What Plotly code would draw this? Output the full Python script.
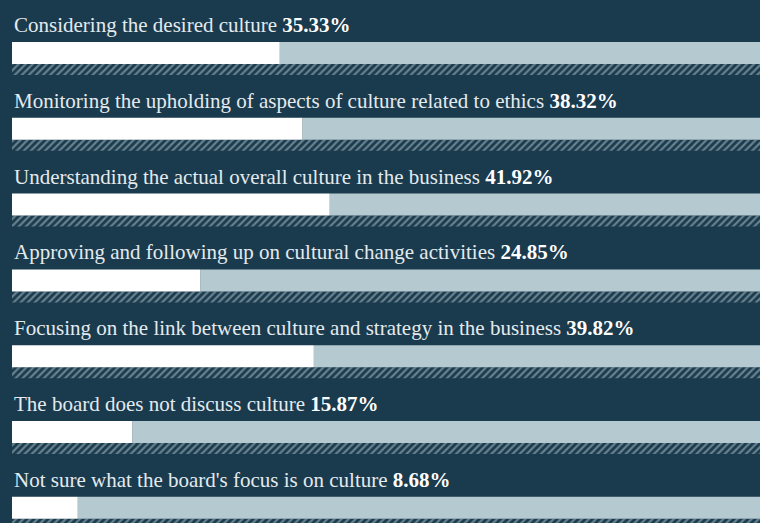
import plotly.graph_objects as go

# board focus on culture survey
labels = [
    "Considering the desired culture",
    "Monitoring the upholding of aspects of culture related to ethics",
    "Understanding the actual overall culture in the business",
    "Approving and following up on cultural change activities",
    "Focusing on the link between culture and strategy in the business",
    "The board does not discuss culture",
    "Not sure what the board's focus is on culture",
]
values = [35.33, 38.32, 41.92, 24.85, 39.82, 15.87, 8.68]

BG = "#1a3a4d"
LIGHT = "#b5c9d0"
TEXT = "#e4eaed"

W, H = 760, 523
ROW = 75.8          # px between rows
BAR_TOP = 42        # first bar top edge
BAR_H = 22
HATCH_H = 11

n = len(values)
rows = list(range(n))
bar_y = [BAR_TOP + i * ROW + BAR_H / 2 for i in rows]
hatch_y = [BAR_TOP + i * ROW + BAR_H + HATCH_H / 2 for i in rows]
label_y = [BAR_TOP + i * ROW - 17 for i in rows]
rest = [100 - v for v in values]

fig = go.Figure()

fig.add_trace(go.Bar(
    x=[100] * n, y=hatch_y, base=[0] * n, width=HATCH_H,
    orientation="h",
    marker=dict(
        color=BG, line=dict(width=0),
        pattern=dict(shape="/", fgcolor=LIGHT, bgcolor=BG, size=5, solidity=0.45),
    ),
))
fig.add_trace(go.Bar(
    x=rest, y=bar_y, base=values, width=BAR_H,
    orientation="h",
    marker=dict(color=LIGHT, line=dict(width=0)),
))
fig.add_trace(go.Bar(
    x=values, y=bar_y, base=[0] * n, width=BAR_H,
    orientation="h",
    marker=dict(color="#ffffff", line=dict(width=0)),
))

for lab, v, y in zip(labels, values, label_y):
    fig.add_annotation(
        x=0, y=y, xref="x", yref="y",
        text=f"{lab} <b><span style='color:#ffffff'>{v:.2f}%</span></b>",
        showarrow=False, xanchor="left", yanchor="middle",
        font=dict(family="Liberation Serif", size=21, color=TEXT),
    )

fig.update_layout(
    width=W, height=H,
    margin=dict(l=12, r=0, t=0, b=0),
    paper_bgcolor=BG, plot_bgcolor=BG,
    barmode="overlay", showlegend=False, hovermode=False,
    xaxis=dict(range=[0, 748 / 7.58], visible=False, fixedrange=True),
    yaxis=dict(range=[H, 0], visible=False, fixedrange=True),
)

fig.write_html(
    "out.html",
    config={"displayModeBar": False},
    post_script="document.body.style.margin='0';document.body.style.background='" + BG + "';",
)
